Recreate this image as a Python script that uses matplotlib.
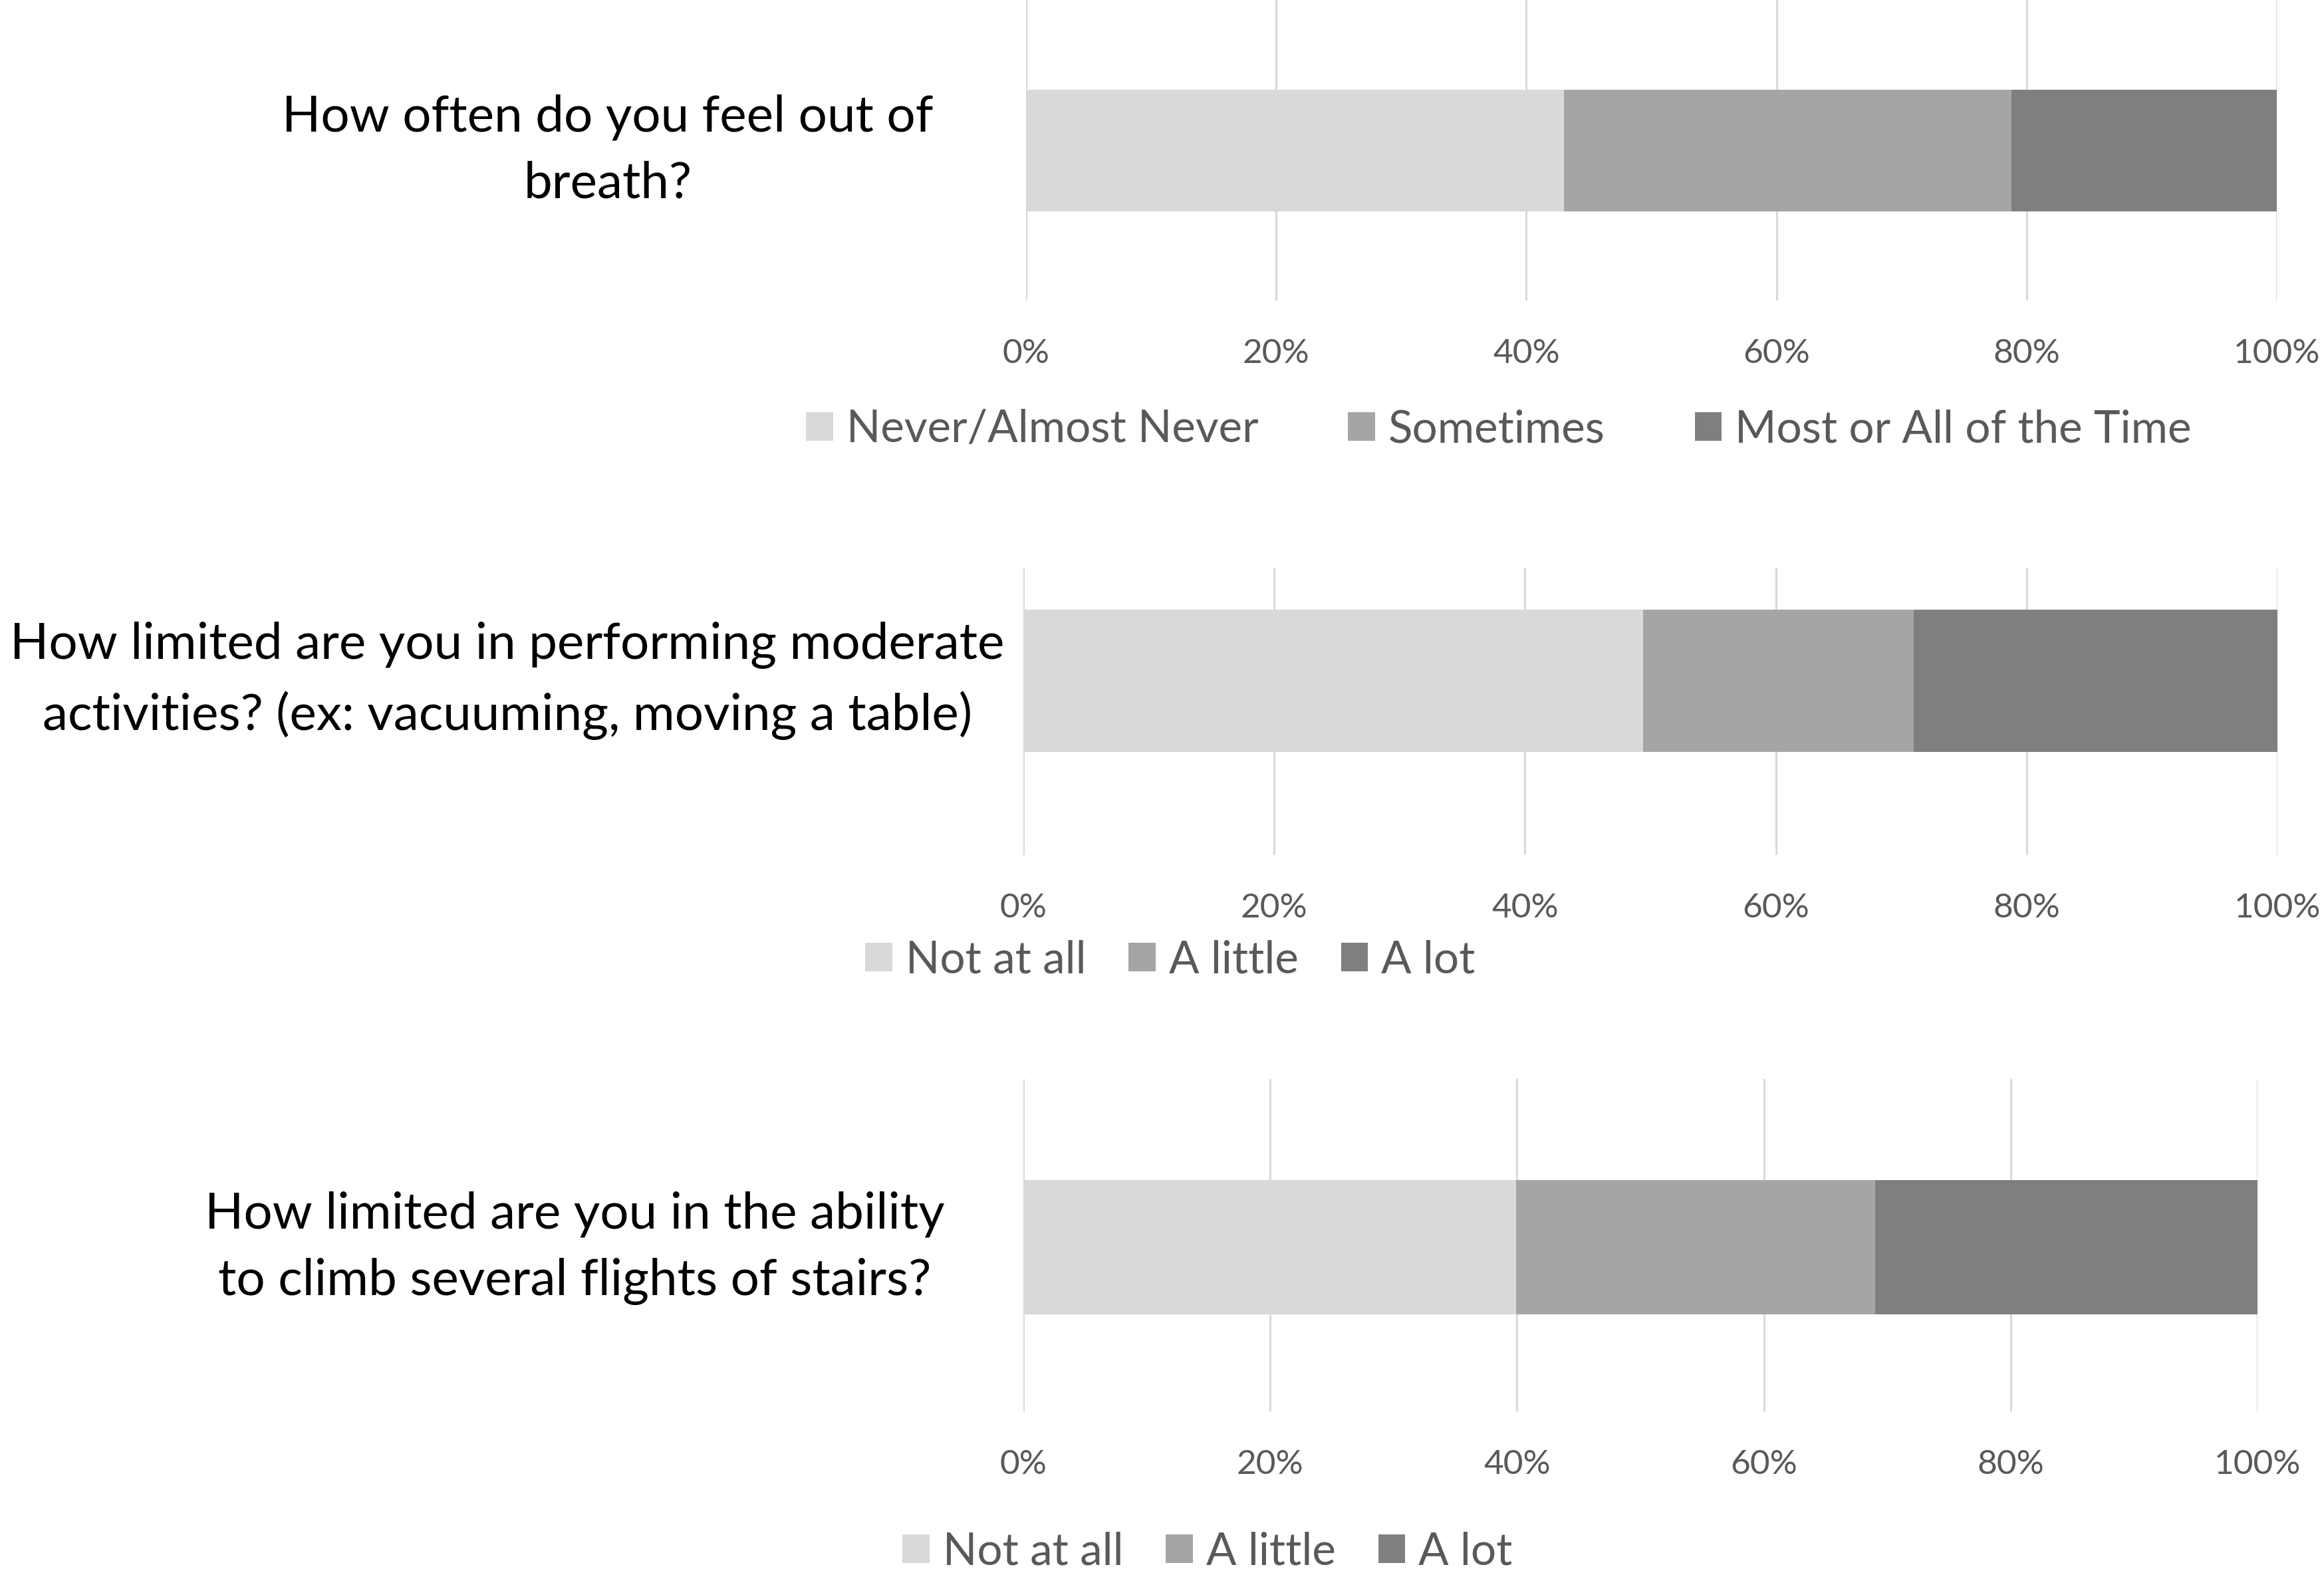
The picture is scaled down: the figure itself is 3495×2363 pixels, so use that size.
import matplotlib
matplotlib.use("Agg")
import matplotlib.pyplot as plt
from matplotlib.patches import Patch
from matplotlib.ticker import FuncFormatter

plt.rcParams['font.family'] = ['Lato', 'DejaVu Sans']

# ---- data ----
questions = [
    "How often do you feel out of\nbreath?",
    "How limited are you in performing moderate\nactivities? (ex: vacuuming, moving a table)",
    "How limited are you in the ability\nto climb several flights of stairs?",
]
categories_q1 = ["Never/Almost Never", "Sometimes", "Most or All of the Time"]
categories_q2 = ["Not at all", "A little", "A lot"]
categories_q3 = ["Not at all", "A little", "A lot"]
values_q1 = [43.0, 35.8, 21.2]
values_q2 = [49.4, 21.6, 29.0]
values_q3 = [39.9, 29.1, 31.0]
xticks = [0, 20, 40, 60, 80, 100]

colors = ["#d9d9d9", "#a5a5a5", "#7f7f7f"]
GRID = "#d9d9d9"
TXT = "#595959"

W, H = 3495, 2363
DPI = 100
fig = plt.figure(figsize=(W / DPI, H / DPI), dpi=DPI)
fig.patch.set_facecolor("white")


def rect(x0, y0, x1, y1):
    return [x0 / W, 1 - y1 / H, (x1 - x0) / W, (y1 - y0) / H]


panels = [
    dict(q=questions[0], cats=categories_q1, vals=values_q1,
         box=(1543, 0, 3424, 452), bar=(135, 318),
         qxy=(914, 226), leg=(2254, 646), colsp=2.0),
    dict(q=questions[1], cats=categories_q2, vals=values_q2,
         box=(1539, 854, 3425, 1286), bar=(917, 1131),
         qxy=(763, 1024), leg=(1760, 1444), colsp=0.95),
    dict(q=questions[2], cats=categories_q3, vals=values_q3,
         box=(1539, 1623, 3395, 2123), bar=(1775, 1977),
         qxy=(864, 1877), leg=(1816, 2334), colsp=0.95),
]

for p in panels:
    x0, y0, x1, y1 = p["box"]
    ax = fig.add_axes(rect(x0, y0, x1, y1))
    bt, bb = p["bar"]
    scale = bb - bt  # px per data unit (bar height 1)
    top = 0.5 + (bt - y0) / scale
    bot = -0.5 - (y1 - bb) / scale
    left = 0
    for v, c in zip(p["vals"], colors):
        ax.barh(0, v, left=left, height=1.0, color=c, zorder=3)
        left += v
    ax.set_ylim(bot, top)
    ax.set_xlim(0, 100)
    ax.set_xticks(xticks)
    ax.xaxis.set_major_formatter(FuncFormatter(lambda v, _: f"{int(v)}%"))
    ax.tick_params(axis="x", length=0, labelsize=37, labelcolor=TXT, pad=41)
    ax.set_yticks([])
    for s in ax.spines.values():
        s.set_visible(False)
    ax.grid(axis="x", color=GRID, linewidth=2.2, zorder=0)
    ax.set_axisbelow(True)

    fig.text(p["qxy"][0] / W, 1 - p["qxy"][1] / H, p["q"], ha="center",
             va="center", fontsize=55, color="black", linespacing=1.56)

    handles = [Patch(facecolor=c, edgecolor="none") for c in colors]
    fig.legend(handles, p["cats"], loc="center",
               bbox_to_anchor=(p["leg"][0] / W, 1 - p["leg"][1] / H),
               ncol=3, frameon=False, fontsize=48.5, labelcolor=TXT,
               handlelength=0.6, handleheight=0.6, handletextpad=0.3,
               columnspacing=p["colsp"], borderpad=0, borderaxespad=0)

fig.savefig("out.png", dpi=DPI, facecolor="white")
